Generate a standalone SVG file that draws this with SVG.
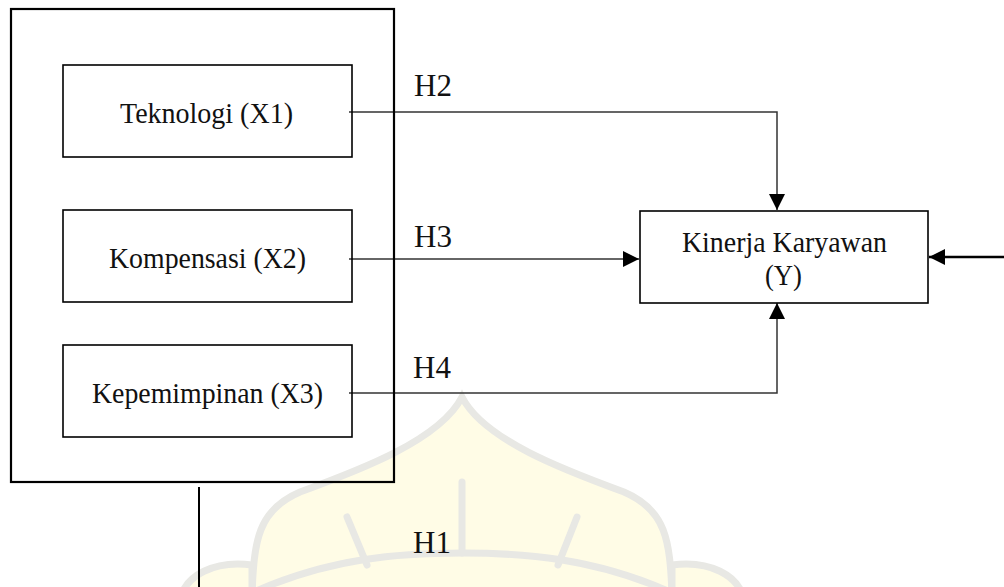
<svg xmlns="http://www.w3.org/2000/svg" width="1004" height="587" viewBox="0 0 1004 587">
  <style>
    .frame { fill: none; stroke: #000; stroke-width: 2.2; }
    .box { fill: none; stroke: #000; stroke-width: 1.6; }
    .t { font-family: "Liberation Serif", "Times New Roman", serif; font-size: 30px; fill: #111; }
    .h { font-family: "Liberation Serif", "Times New Roman", serif; font-size: 31px; fill: #111; }
    .conn { fill: none; stroke: #333; stroke-width: 1.5; }
    .wm { fill: #fffce6; stroke: #e8e8e4; stroke-width: 7; stroke-linecap: round; }
    .wml { fill: none; stroke: #e8e8e4; stroke-width: 7; stroke-linecap: round; }
  </style>
  <defs>
    <marker id="arr" markerUnits="userSpaceOnUse" markerWidth="16" markerHeight="16" refX="16" refY="8" orient="auto">
      <path d="M0,0 L16,8 L0,16 Z" fill="#000"/>
    </marker>
  </defs>
  <rect width="1004" height="587" fill="#fff"/>

  <!-- watermark -->
  <g id="watermark">
    <path class="wm" d="M462,397 C440,440 360,470 300,492 C258,510 254,540 252,595 L672,595 C670,540 666,510 624,492 C564,470 484,440 462,397 Z"/>
    <path class="wm" d="M180,600 C185,575 215,560 252,565 L252,600 Z"/>
    <path class="wm" d="M744,600 C739,575 709,560 672,565 L672,600 Z"/>
    <path class="wml" d="M462,482 L462,553"/>
    <path class="wml" d="M347,517 L367,565"/>
    <path class="wml" d="M577,517 L558,565"/>
    <path class="wml" d="M254,592 C330,558 400,553 462,553 C524,553 594,558 670,592"/>
  </g>

  <!-- connectors -->
  <g id="connectors">
    <path class="conn" d="M349,112 H777 V210" marker-end="url(#arr)"/>
    <path class="conn" d="M349,259 H639" marker-end="url(#arr)"/>
    <path class="conn" d="M349,393 H777 V303" marker-end="url(#arr)"/>
    <path class="conn" d="M1004,257 H929" style="stroke:#000;stroke-width:2.6" marker-end="url(#arr)"/>
    <path class="conn" d="M199,487 V587" style="stroke:#000;stroke-width:2"/>
  </g>

  <g id="group-x">
    <rect class="frame" x="11" y="9" width="383" height="473"/>
  </g>

  <g id="x1">
    <rect class="box" x="63" y="65" width="289" height="92"/>
    <text class="t" x="120" y="123" textLength="173" lengthAdjust="spacingAndGlyphs">Teknologi (X1)</text>
  </g>
  <g id="x2">
    <rect class="box" x="63" y="210" width="289" height="92"/>
    <text class="t" x="109" y="268" textLength="197" lengthAdjust="spacingAndGlyphs">Kompensasi (X2)</text>
  </g>
  <g id="x3">
    <rect class="box" x="63" y="345" width="289" height="92"/>
    <text class="t" x="92" y="403" textLength="231" lengthAdjust="spacingAndGlyphs">Kepemimpinan (X3)</text>
  </g>
  <g id="y">
    <rect class="box" x="640" y="211" width="288" height="92"/>
    <text class="t" x="682" y="252" textLength="205" lengthAdjust="spacingAndGlyphs">Kinerja Karyawan</text>
    <text class="t" x="765" y="285" textLength="37" lengthAdjust="spacingAndGlyphs">(Y)</text>
  </g>

  <g id="labels">
    <text class="h" x="414" y="96">H2</text>
    <text class="h" x="414" y="247">H3</text>
    <text class="h" x="413" y="378">H4</text>
    <text class="h" x="413" y="553">H1</text>
  </g>
</svg>
